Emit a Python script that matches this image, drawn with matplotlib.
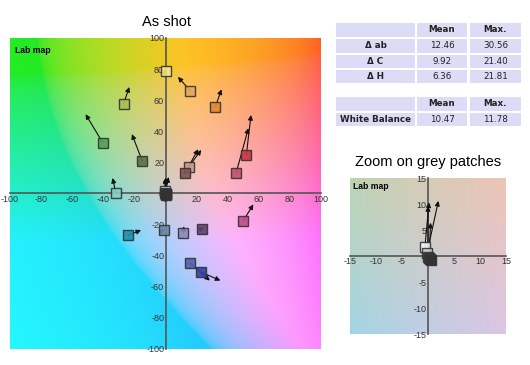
import numpy as np
import matplotlib
matplotlib.use("Agg")
import matplotlib.pyplot as plt
from matplotlib.patches import Rectangle

# ---------------- data ----------------
patch_a = [0, 16, 32, 52, 45.5, 15, 12.5, -27, -40.3, -15, -32, 50, -24, -1, 11.4, 23.5, 16, 23]
patch_b = [79, 66, 55.5, 25, 13.5, 17.3, 13, 57.5, 32.6, 21, 0.5, -17.5, -27, -23.3, -25.6, -22.6, -44.8, -50.6]
target_a = [0.5, 8, 36, 55, 53.3, 23, 21, -23.3, -51.4, -21.6, -34, 56.5, -15.7, -0.5, 11.8, 25, 28.5, 35.3]
target_b = [80, 75, 67, 50.5, 42, 28, 28.5, 68.5, 51, 38.2, 10, -7, -23.5, -23, -21, -22, -56, -56]
patch_colors = ['#f6e48c', '#e2aa62', '#e08a34', '#c83444', '#c0526c', '#c89a8c', '#7e5252',
                '#a8c052', '#52a052', '#5a7042', '#84d2c2', '#c24a8a', '#2090aa', '#6a8aaa',
                '#8a8aba', '#624272', '#5262aa', '#3242a2']

grey_a = [-0.6, -0.2, 0.0, 0.2, 0.4, 0.5]
grey_b = [1.7, 0.5, -0.2, -0.4, -0.6, -0.8]
grey_ta = [0.2, 2.0, 0.0, 0.5, 0.3, 0.6]
grey_tb = [10.3, 10.6, 9.6, 6.4, 1.5, 1.0]
grey_colors = ['#f4f4f4', '#c8c8c8', '#a0a0a0', '#787878', '#505050', '#303030']

main_ticks = [-100, -80, -60, -40, -20, 0, 20, 40, 60, 80, 100]
zoom_ticks = [-15, -10, -5, 0, 5, 10, 15]

table1_header = ['', 'Mean', 'Max.']
table1_rows = ['\u0394 ab', '\u0394 C', '\u0394 H']
table1_mean = ['12.46', '9.92', '6.36']
table1_max = ['30.56', '21.40', '21.81']
table2_header = ['', 'Mean', 'Max.']
table2_rows = ['White Balance']
table2_mean = ['10.47']
table2_max = ['11.78']

W, H = 530, 365


def lab_to_rgb(L, a, b):
    fy = (L + 16) / 116.0
    fx = fy + a / 500.0
    fz = fy - b / 200.0
    d = 6 / 29

    def finv(t):
        return np.where(t > d, t ** 3, 3 * d * d * (t - 4 / 29))
    X = 0.95047 * finv(fx)
    Y = 1.0 * finv(fy)
    Z = 1.08883 * finv(fz)
    r = 3.2406 * X - 1.5372 * Y - 0.4986 * Z
    g = -0.9689 * X + 1.8758 * Y + 0.0415 * Z
    bb = 0.0557 * X - 0.2040 * Y + 1.0570 * Z
    rgb = np.stack([r, g, bb], axis=-1)
    rgb = np.clip(rgb, 0, 1)
    rgb = np.where(rgb > 0.0031308, 1.055 * rgb ** (1 / 2.4) - 0.055, 12.92 * rgb)
    rgb = np.clip(rgb, 0, 1)
    return 0.85 * rgb + 0.15 * 0.95


def lab_map(lim, L=80, n=300):
    v = np.linspace(-lim, lim, n)
    A, B = np.meshgrid(v, v[::-1])
    return lab_to_rgb(np.full_like(A, L), A, B)


tick_font = dict(family=['Liberation Sans', 'DejaVu Sans'], size=6.5, color='#333333')


def setup(ax, lim, ticks):
    ax.imshow(lab_map(lim), extent=[-lim, lim, -lim, lim], aspect='auto', zorder=0)
    ax.set_xlim(-lim, lim)
    ax.set_ylim(-lim, lim)
    for s in ['top', 'right']:
        ax.spines[s].set_visible(False)
    ax.spines['left'].set_position('zero')
    ax.spines['bottom'].set_position('zero')
    for s in ['left', 'bottom']:
        ax.spines[s].set_color('#555555')
        ax.spines[s].set_linewidth(1.2)
        ax.spines[s].set_zorder(1)
    ax.set_xticks(ticks)
    ax.set_yticks(ticks)
    ax.set_xticklabels([str(t) for t in ticks], **tick_font)
    ax.set_yticklabels([str(t) for t in ticks], **tick_font)
    ax.tick_params(length=0, pad=1)
    ax.text(-lim * 0.965, lim * 0.95, 'Lab map', fontsize=6.2, fontweight='bold',
            family=['Liberation Sans', 'DejaVu Sans'], va='top', ha='left', zorder=5)


def draw_patches(ax, pa, pb, ta, tb, cols, ms=7.0):
    for x0, y0, x1, y1 in zip(pa, pb, ta, tb):
        ax.annotate('', xy=(x1, y1), xytext=(x0, y0),
                    arrowprops=dict(arrowstyle='-|>', color='#111111', lw=0.8,
                                    mutation_scale=7, shrinkA=0, shrinkB=0), zorder=3)
    for x0, y0, c in zip(pa, pb, cols):
        ax.plot([x0], [y0], marker='s', ms=ms, mfc=c, mec='#333333', mew=1.0,
                alpha=0.9, zorder=4, linestyle='none')


fig = plt.figure(figsize=(W / 100, H / 100), dpi=100)
fig.patch.set_facecolor('white')

# main chart
ax = fig.add_axes([10 / W, (H - 349) / H, 311 / W, 311 / H])
setup(ax, 100, main_ticks)
draw_patches(ax, patch_a, patch_b, target_a, target_b, patch_colors)
draw_patches(ax, grey_a, grey_b, grey_ta, grey_tb, grey_colors)
fig.text(166 / W, 1 - 22 / H, 'As shot', ha='center', va='center', fontsize=10.5,
         family=['Liberation Sans', 'DejaVu Sans'])

# zoom chart
az = fig.add_axes([350 / W, (H - 334) / H, 156 / W, 156 / H])
setup(az, 15, zoom_ticks)
draw_patches(az, grey_a, grey_b, grey_ta, grey_tb, grey_colors)
fig.text(428 / W, 1 - 162 / H, 'Zoom on grey patches', ha='center', va='center',
         fontsize=10.5, family=['Liberation Sans', 'DejaVu Sans'])

# tables
cols_x = [(336, 415), (417, 467), (470, 521)]
cell_color = '#dddcf6'


def cell(x0, x1, y0, y1, txt, bold):
    fig.patches.append(Rectangle((x0 / W, 1 - y1 / H), (x1 - x0) / W, (y1 - y0) / H,
                                 transform=fig.transFigure, facecolor=cell_color,
                                 edgecolor='none'))
    if txt:
        fig.text((x0 + x1) / 2 / W, 1 - (y0 + y1) / 2 / H, txt, ha='center', va='center',
                 fontsize=6.3, fontweight='bold' if bold else 'normal', color='#222222',
                 family=['DejaVu Sans'])


def table(header, rows, means, maxs, rows_y):
    y0, y1 = rows_y[0]
    for (x0, x1), h in zip(cols_x, header):
        cell(x0, x1, y0, y1, h, True)
    for (ya, yb), r, m, mx in zip(rows_y[1:], rows, means, maxs):
        cell(cols_x[0][0], cols_x[0][1], ya, yb, r, True)
        cell(cols_x[1][0], cols_x[1][1], ya, yb, m, False)
        cell(cols_x[2][0], cols_x[2][1], ya, yb, mx, False)


table(table1_header, table1_rows, table1_mean, table1_max,
      [(23, 37), (39, 53), (55, 68), (70, 83)])
table(table2_header, table2_rows, table2_mean, table2_max,
      [(97, 111), (113, 126)])

fig.savefig('out.png', dpi=100, facecolor='white')
